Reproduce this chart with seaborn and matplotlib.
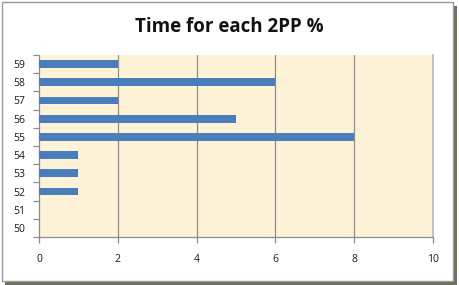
import matplotlib
matplotlib.use("Agg")
import matplotlib.pyplot as plt
import seaborn as sns
import pandas as pd
from matplotlib.patches import Rectangle

categories = ["59", "58", "57", "56", "55", "54", "53", "52", "51", "50"]
values = [2, 6, 2, 5, 8, 1, 1, 1, 0, 0]
xticks = [0, 2, 4, 6, 8, 10]

sns.set_theme(style="white")
plt.rcParams['font.family'] = ['Open Sans', 'DejaVu Sans']

df = pd.DataFrame({"cat": categories, "val": values})

fig = plt.figure(figsize=(4.59, 2.85), dpi=100)
# outer frame with shadow
fig.patches.append(Rectangle((5/459, 0.0/285), 452/459, 279/285, transform=fig.transFigure,
                             facecolor="#6f6f60", edgecolor="none", zorder=-2))
fig.patches.append(Rectangle((2/459, 4/285), 451/459, 279/285, transform=fig.transFigure,
                             facecolor="white", edgecolor="#9a9a9a", linewidth=1.0, zorder=-1))

ax = fig.add_axes([39/459, 1 - 237/285, (433 - 39)/459, (237 - 55)/285])
ax.set_zorder(2)
ax.set_facecolor("#fef3d7")
sns.barplot(data=df, x="val", y="cat", order=categories, orient="h",
            color="#4a7ebb", width=0.42, saturation=1, linewidth=0, ax=ax, zorder=3)
ax.set_xlim(0, 10)
ax.set_ylim(9.5, -0.5)
ax.set_xticks(xticks)
ax.set_xticklabels([str(t) for t in xticks], fontsize=7.5, color="#1a1a1a")
ax.set_yticks(range(len(categories)))
ax.set_yticklabels(categories, fontsize=7.5, color="#1a1a1a")
ax.set_xlabel("")
ax.set_ylabel("")
for x in xticks[1:-1]:
    ax.axvline(x, color="#8c8c8c", linewidth=0.9, zorder=2)
ax.spines["top"].set_visible(False)
ax.spines["right"].set_color("#b8b8b8")
ax.spines["right"].set_linewidth(1.2)
ax.spines["left"].set_color("#8c8c8c")
ax.spines["bottom"].set_color("#8c8c8c")
ax.spines["left"].set_linewidth(0.9)
ax.spines["bottom"].set_linewidth(0.9)
# minor ticks on y at category boundaries
ax.set_yticks([i - 0.5 for i in range(len(categories) + 1)], minor=True)
ax.tick_params(axis="y", which="both", left=True)
ax.tick_params(axis="x", which="both", bottom=True)
ax.tick_params(axis="y", which="major", length=0, pad=10)
ax.tick_params(axis="y", which="minor", length=4, color="#8c8c8c", direction="out", width=0.9)
ax.tick_params(axis="x", which="major", length=4, color="#8c8c8c", direction="out", width=0.9, pad=8)

fig.text(0.5, 1 - 27/285, "Time for each 2PP %", ha="center", va="center",
         fontsize=13.5, fontweight="bold", color="#111111")

fig.savefig("out.png", dpi=100)
